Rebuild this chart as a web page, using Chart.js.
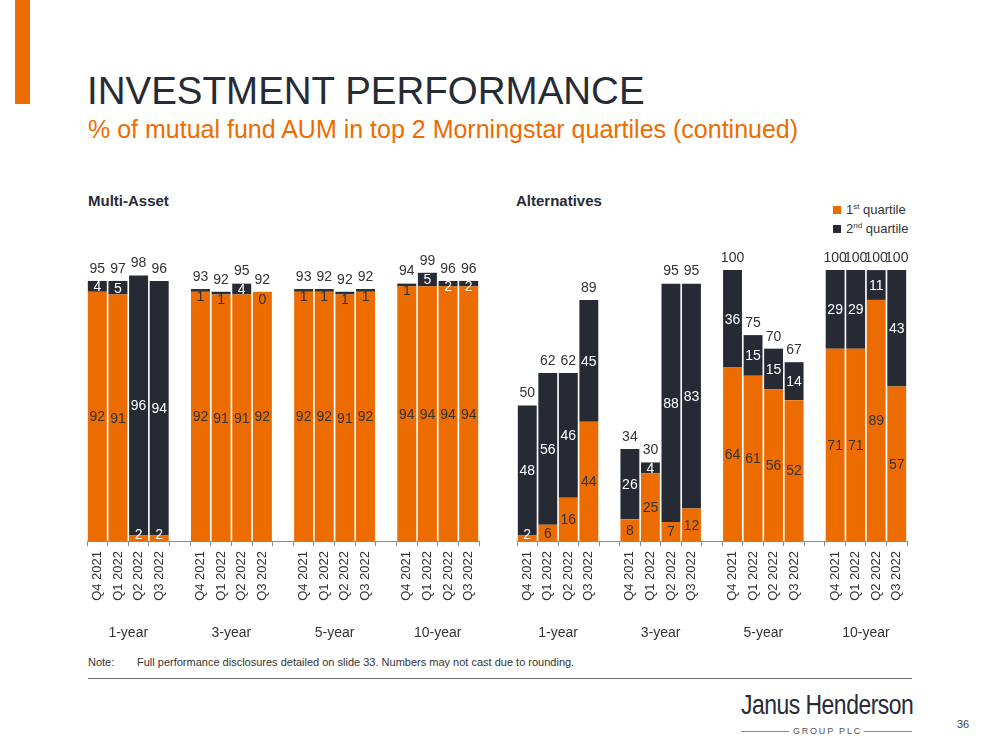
<!DOCTYPE html>
<html>
<head>
<meta charset="utf-8">
<script src="https://cdn.jsdelivr.net/npm/chart.js@4.4.1/dist/chart.umd.min.js"></script>
<style>
  body { margin: 0; background: #fff; font-family: "Liberation Sans", Arial, sans-serif; }
  #page { position: relative; width: 999px; height: 750px; overflow: hidden; background: #fff; }
  .abs { position: absolute; white-space: nowrap; }
  #barra { left: 15px; top: 0; width: 15px; height: 104px; background: #ED6C00; }
  #titulo { left: 87px; top: 72px; font-size: 38.5px; line-height: 38.5px; color: #272B36; }
  #subtitulo { left: 88px; top: 117px; font-size: 25px; line-height: 25px; color: #ED6C00; }
  .painel { font-size: 15px; font-weight: bold; color: #272B36; line-height: 16px; }
  .legenda { font-size: 13px; color: #333; line-height: 14px; }
  .legenda i { display: inline-block; width: 8px; height: 8px; margin-right: 5px; vertical-align: 0px; }
  .legenda sup { font-size: 8px; vertical-align: 5px; line-height: 0; }
  canvas { position: absolute; }
  #nota { left: 88px; top: 656px; font-size: 11px; color: #333; }
  #nota span { position: absolute; left: 49px; top: 0; }
  #linha { left: 88px; top: 678px; width: 824px; height: 1px; background: #666; }
  #logo { left: 741px; top: 692px; font-size: 27px; line-height: 27px; color: #272B36; letter-spacing: -0.6px; transform: scaleX(0.85); transform-origin: left top; }
  #grupo { left: 741px; top: 726px; width: 171px; font-size: 9px; line-height: 10px; color: #555; letter-spacing: 1.8px; display: flex; align-items: center; }
  #grupo span.traco { flex: 1; height: 1px; background: #888; }
  #grupo span.txt { padding: 0 2px 0 4px; }
  #pagina { left: 957px; top: 718px; font-size: 11px; color: #444; }
</style>
</head>
<body>
<div id="page">
  <div id="barra" class="abs"></div>
  <div id="titulo" class="abs">INVESTMENT PERFORMANCE</div>
  <div id="subtitulo" class="abs">% of mutual fund AUM in top 2 Morningstar quartiles (continued)</div>

  <div class="abs painel" style="left:88px; top:193px;">Multi-Asset</div>
  <div class="abs painel" style="left:516px; top:193px;">Alternatives</div>

  <div class="abs legenda" style="left:833px; top:203px;"><i style="background:#ED6C00"></i>1<sup>st</sup> quartile</div>
  <div class="abs legenda" style="left:833px; top:222px;"><i style="background:#262A35"></i>2<sup>nd</sup> quartile</div>

  <canvas id="grafico-multi" style="left:80px; top:235px;" width="410" height="420"></canvas>
  <canvas id="grafico-alt" style="left:509px; top:235px;" width="410" height="420"></canvas>

  <div id="nota" class="abs">Note:<span>Full performance disclosures detailed on slide 33. Numbers may not cast due to rounding.</span></div>
  <div id="linha" class="abs"></div>
  <div id="logo" class="abs">Janus Henderson</div>
  <div id="grupo" class="abs"><span class="traco"></span><span class="txt">GROUP PLC</span><span class="traco"></span></div>
  <div id="pagina" class="abs">36</div>
</div>

<script>
// --- DADOS ---
const trimestres = ['Q4 2021', 'Q1 2022', 'Q2 2022', 'Q3 2022'];
const horizontes = ['1-year', '3-year', '5-year', '10-year'];

// Multi-Asset (por horizonte: Q4 2021, Q1 2022, Q2 2022, Q3 2022)
const multiPrimeiro = [92, 91, 2, 2,   92, 91, 91, 92,   92, 92, 91, 92,   94, 94, 94, 94];
const multiSegundo  = [4, 5, 96, 94,   1, 1, 4, 0,       1, 1, 1, 1,       1, 5, 2, 2];
const multiTotal    = [95, 97, 98, 96, 93, 92, 95, 92,   93, 92, 92, 92,   94, 99, 96, 96];

// Alternatives
const altPrimeiro = [2, 6, 16, 44,    8, 25, 7, 12,     64, 61, 56, 52,   71, 71, 89, 57];
const altSegundo  = [48, 56, 46, 45,  26, 4, 88, 83,    36, 15, 15, 14,   29, 29, 11, 43];
const altTotal    = [50, 62, 62, 89,  34, 30, 95, 95,   100, 75, 70, 67,  100, 100, 100, 100];

// --- CORES ---
const laranja = '#ED6C00';
const escuro = '#262A35';
const textoCor = '#333333';
const fonte = '"Liberation Sans", Arial, sans-serif';

// Cria as categorias com uma coluna vazia entre os horizontes
function montarLabels() {
  const labels = [];
  horizontes.forEach((h, g) => {
    trimestres.forEach(q => labels.push(q));
    if (g < horizontes.length - 1) labels.push('');
  });
  return labels;
}

function expandir(valores) {
  const out = [];
  horizontes.forEach((h, g) => {
    for (let i = 0; i < trimestres.length; i++) out.push(valores[g * trimestres.length + i]);
    if (g < horizontes.length - 1) out.push(null);
  });
  return out;
}

// Plugin: rótulos dentro das barras, totais e nomes dos horizontes
const rotulosPlugin = {
  id: 'rotulos',
  afterDatasetsDraw(chart, args, opts) {
    const ctx = chart.ctx;
    const totais = expandir(opts.totais);
    ctx.save();
    ctx.font = '14px ' + fonte;
    ctx.textAlign = 'center';

    chart.data.datasets.forEach((ds, di) => {
      const meta = chart.getDatasetMeta(di);
      meta.data.forEach((bar, i) => {
        const v = ds.data[i];
        if (v === null || v === undefined) return;
        const topo = Math.min(bar.y, bar.base);
        const base = Math.max(bar.y, bar.base);
        if (di === 0) {
          // 1º quartil (laranja)
          if (v <= 2) {
            ctx.fillStyle = '#ffffff';
            ctx.textBaseline = 'bottom';
            ctx.fillText(String(v), bar.x, base + 1);
          } else {
            ctx.fillStyle = textoCor;
            ctx.textBaseline = 'middle';
            ctx.fillText(String(v), bar.x, (topo + base) / 2 + 1);
          }
        } else {
          // 2º quartil (escuro)
          if (v <= 1) {
            ctx.fillStyle = textoCor;
            ctx.textBaseline = 'top';
            ctx.fillText(String(v), bar.x, topo + 1);
          } else if (v <= 2) {
            ctx.fillStyle = '#ffffff';
            ctx.textBaseline = 'top';
            ctx.fillText(String(v), bar.x, topo - 1);
          } else {
            ctx.fillStyle = '#ffffff';
            ctx.textBaseline = 'middle';
            ctx.fillText(String(v), bar.x, (topo + base) / 2 + 1);
          }
        }
      });
    });

    // Totais acima das barras
    const metaTopo = chart.getDatasetMeta(chart.data.datasets.length - 1);
    metaTopo.data.forEach((bar, i) => {
      if (totais[i] === null || totais[i] === undefined) return;
      ctx.fillStyle = textoCor;
      ctx.textBaseline = 'bottom';
      ctx.fillText(String(totais[i]), bar.x, Math.min(bar.y, bar.base) - 5);
    });

    // Nomes dos horizontes embaixo do eixo
    const xScale = chart.scales.x;
    ctx.font = '14px ' + fonte;
    ctx.textBaseline = 'middle';
    horizontes.forEach((h, g) => {
      const ini = g * (trimestres.length + 1);
      const fim = ini + trimestres.length - 1;
      const cx = (xScale.getPixelForValue(ini) + xScale.getPixelForValue(fim)) / 2;
      ctx.fillStyle = textoCor;
      ctx.fillText(h, cx, chart.chartArea.bottom + 92);
    });
    ctx.restore();
  }
};

function criarGrafico(canvasId, primeiro, segundo, totais, padding) {
  return new Chart(document.getElementById(canvasId), {
    type: 'bar',
    data: {
      labels: montarLabels(),
      datasets: [
        { label: '1st quartile', data: expandir(primeiro), backgroundColor: laranja },
        { label: '2nd quartile', data: expandir(segundo), backgroundColor: escuro }
      ]
    },
    options: {
      responsive: false,
      animation: false,
      layout: { padding: padding },
      datasets: { bar: { barPercentage: 0.92, categoryPercentage: 1, borderWidth: 0 } },
      plugins: {
        legend: { display: false },
        tooltip: { enabled: false },
        rotulos: { totais: totais }
      },
      scales: {
        x: {
          stacked: true,
          offset: true,
          afterFit(scale) { scale.height = 100; },
          grid: {
            offset: true,
            drawOnChartArea: false,
            drawTicks: true,
            tickLength: 5,
            color: '#8a8a8a'
          },
          border: { display: true, color: '#8a8a8a', width: 1 },
          ticks: {
            autoSkip: false,
            minRotation: 90,
            maxRotation: 90,
            padding: 5,
            color: textoCor,
            font: { family: fonte, size: 13 }
          }
        },
        y: {
          stacked: true,
          display: false,
          min: 0,
          max: 110
        }
      }
    },
    plugins: [rotulosPlugin]
  });
}

document.addEventListener('DOMContentLoaded', () => {
  criarGrafico('grafico-multi', multiPrimeiro, multiSegundo, multiTotal, { top: 8, bottom: 14, left: 7, right: 11 });
  criarGrafico('grafico-alt', altPrimeiro, altSegundo, altTotal, { top: 8, bottom: 14, left: 8, right: 12 });
});
</script>
</body>
</html>
